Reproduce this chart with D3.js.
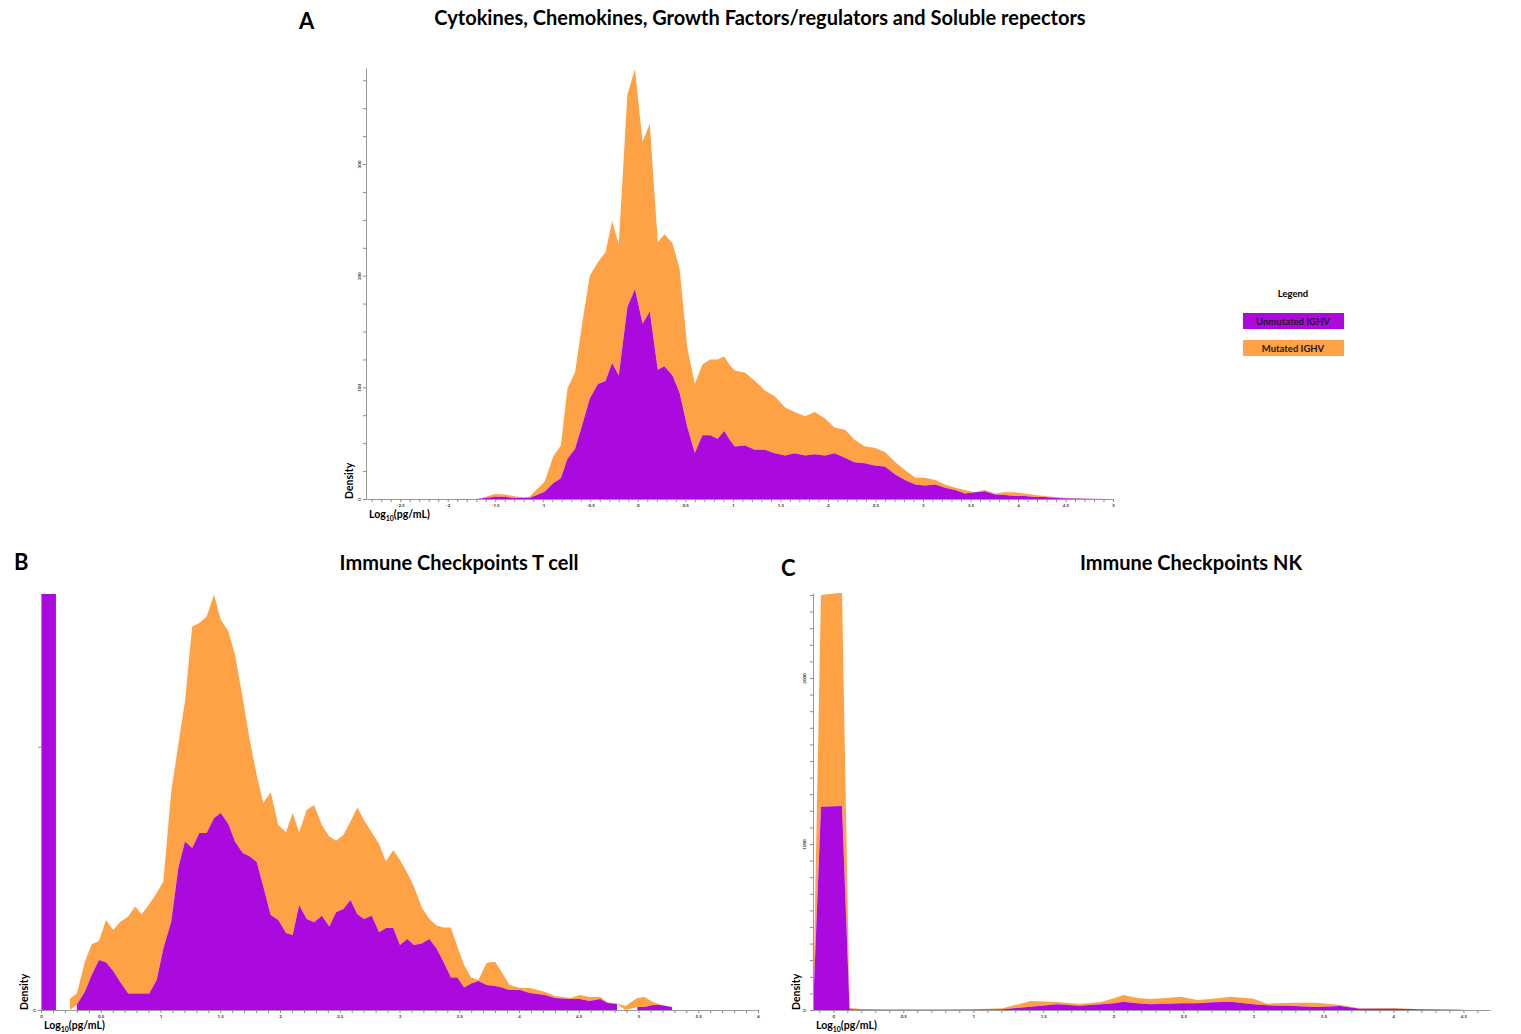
<!DOCTYPE html>
<html>
<head>
<meta charset="utf-8">
<script src="https://cdn.jsdelivr.net/npm/d3@7"></script>
<style>
  body { margin: 0; background: #fff; }
  text { font-family: Lato, "Open Sans", sans-serif; }
</style>
</head>
<body>
<svg id="chart" width="1521" height="1034"></svg>
<script>
// Colours of the two IGHV groups
const PURPLE = "#AB0ADF";
const ORANGE = "#FFA145";

// Panel A - cytokines etc. (log10 pg/mL, unmutated density, mutated density stacked on top)
const aLogX = [-1.70, -1.60, -1.50, -1.40, -1.30, -1.20, -1.14, -0.98, -0.89, -0.81, -0.74, -0.66, -0.58, -0.505, -0.42, -0.34, -0.27, -0.20, -0.11, -0.03,
  0.05, 0.126, 0.21, 0.28, 0.365, 0.44, 0.52, 0.60, 0.68, 0.76, 0.84, 0.91, 0.97, 1.02, 1.13, 1.23, 1.34, 1.44, 1.55, 1.65,
  1.76, 1.86, 1.97, 2.07, 2.18, 2.28, 2.39, 2.49, 2.60, 2.71, 2.81, 2.92, 3.02, 3.13, 3.23, 3.34, 3.44, 3.55, 3.65, 3.76,
  3.86, 3.97, 4.07, 4.18, 4.28, 4.39, 4.55, 4.76, 4.95];
const aUnmutated = [0, 1, 2, 2, 1, 0.8, 1, 6.5, 14, 18.5, 36, 45, 67.6, 90, 103, 105.6, 121.7, 110.7, 171.7, 188,
  157, 168, 115.8, 118.8, 110.7, 95, 64.6, 41.3, 57, 57, 54, 61, 52.7, 47, 48, 44, 44, 41, 39, 41,
  39, 40, 39, 41, 37, 33, 32, 30, 29, 22, 17, 13, 12, 13, 10, 8, 5, 6, 7, 4,
  3.5, 2.7, 2.7, 1.8, 1.8, 1, 0.5, 0.3, 0];
const aMutated = [0, 1, 2.5, 2, 1.5, 0.7, 1, 9, 24, 29.5, 63, 68.6, 92.4, 110, 109, 115.4, 127.3, 117.3, 190.3, 197,
  163, 168, 114.2, 118.2, 118.3, 111, 71.4, 61.7, 63.5, 68, 71, 66.7, 66.9, 68, 65, 62, 53, 51, 43, 37,
  35, 38, 33, 23, 25, 20, 15, 16, 13, 11, 9, 6, 7, 4, 3, 2, 3, 0, 1, 1,
  2.5, 3.3, 2.3, 1.7, 0.9, 0.8, 0.5, 0, 0];

// Panel B - immune checkpoints T cell (null = no density, gap in the area)
const bLogX = [0, 0.125, 0.18, 0.243, 0.30, 0.368, 0.424, 0.485, 0.544, 0.605, 0.66, 0.73, 0.787, 0.842, 0.906, 0.968, 1.024, 1.09, 1.149, 1.205,
  1.265, 1.325, 1.386, 1.448, 1.504, 1.568, 1.623, 1.688, 1.749, 1.805, 1.86, 1.922, 1.986, 2.05, 2.106, 2.16, 2.223, 2.285, 2.35, 2.413,
  2.469, 2.53, 2.59, 2.647, 2.703, 2.767, 2.83, 2.887, 2.948, 3.004, 3.065, 3.121, 3.186, 3.25, 3.31, 3.367, 3.43, 3.484, 3.54, 3.60,
  3.66, 3.73, 3.80, 3.87, 3.92, 4.01, 4.09, 4.22, 4.30, 4.43, 4.51, 4.59, 4.68, 4.74, 4.82, 4.89, 4.99, 5.05, 5.12, 5.18, 5.28];
const bUnmutated = [2400, 2400, null, null, 20, 70, 133, 190, 181, 148, 108, 63, 63, 63, 63, 114, 234, 336, 539, 640,
  615, 672, 672, 729, 748, 706, 640, 596, 583, 562, 469, 361, 342, 292, 285, 399, 346, 333, 358, 317,
  371, 384, 418, 364, 346, 358, 295, 311, 311, 247, 270, 247, 253, 270, 234, 184, 123, 123, 85, 101,
  110, 95, 91, 84, 76, 76, 65, 57, 46, 42, 42, 34, 42, 27, 23, null, 11, 11, 19, 19, 11];
const bMutated = [0, 0, null, 44, 43, 114, 117, 72, 161, 156, 225, 292, 330, 301, 339, 330, 254, 494, 469, 532,
  842, 798, 823, 849, 735, 732, 710, 589, 437, 331, 317, 466, 361, 383, 463, 276, 414, 446, 345, 342,
  272, 281, 298, 405, 376, 317, 335, 253, 297, 323, 250, 222, 136, 76, 87, 129, 190, 118, 86, 22,
  4, 84, 92, 49, 19, 8, 19, 11, 7, 4, 15, 15, 7, 2, 2, 15, 35, 38, 11, 2, 0];

// Panel C - immune checkpoints NK
const cLogX = [-0.145, -0.088, 0.062, 0.116, 0.2, 0.4, 0.6, 0.8, 1.0, 1.21, 1.41, 1.60, 1.76, 1.91, 2.01, 2.07, 2.17, 2.26, 2.38, 2.48,
  2.60, 2.71, 2.84, 3.0, 3.1, 3.29, 3.45, 3.62, 3.76, 4.0, 4.19, 4.48, 4.5];
const cUnmutated = [0, 1225, 1229, 5, 3, 2, 2, 2, 3, 5, 20, 34, 26, 34, 40, 50, 40, 34, 38, 40,
  40, 46, 50, 34, 28, 24, 18, 24, 8, 8, 4, 2, 0];
const cMutated = [0, 1275, 1285, 7, 3, 3, 3, 2, 2, 5, 34, 14, 10, 14, 32, 40, 32, 32, 34, 40,
  20, 22, 30, 34, 10, 20, 26, 6, 2, 4, 1, 0.5, 0];

const legendLabels = ["Unmutated IGHV", "Mutated IGHV"];

const svg = d3.select("#chart");

const round1 = v => Math.round(v * 10) / 10;
const isHalf = v => Math.abs(v * 2 - Math.round(v * 2)) < 1e-6;

function drawPanel(p) {
    const x = d3.scaleLinear().domain(p.xDomain).range([p.left, p.right]);
    const y = d3.scaleLinear().domain([0, p.yMax]).range([p.bottom, p.top]);
    const rows = p.xs.map((v, i) => ({ x: v, u: p.unmut[i], m: p.mut[i] }));

    svg.append("clipPath").attr("id", p.id + "-clip")
        .append("rect")
        .attr("x", p.left).attr("y", p.top)
        .attr("width", p.right - p.left).attr("height", p.bottom - p.top);

    const g = svg.append("g").attr("clip-path", `url(#${p.id}-clip)`);

    // mutated layer sits on top of the unmutated one
    g.append("path").datum(rows)
        .attr("fill", ORANGE)
        .attr("d", d3.area()
            .defined(d => d.m !== null)
            .x(d => x(d.x))
            .y0(d => y(d.u ?? 0))
            .y1(d => y((d.u ?? 0) + d.m)));

    g.append("path").datum(rows)
        .attr("fill", PURPLE)
        .attr("d", d3.area()
            .defined(d => d.u !== null)
            .x(d => x(d.x))
            .y0(y(0))
            .y1(d => y(d.u)));

    // x axis: minor ticks every 0.1, labels every 0.5
    const xTicks = d3.range(Math.ceil(p.xDomain[0] * 10), Math.floor(p.xDomain[1] * 10) + 1).map(v => round1(v / 10));
    const xAxis = svg.append("g")
        .attr("transform", `translate(0,${p.bottom})`)
        .call(d3.axisBottom(x).tickValues(xTicks).tickSize(3).tickSizeOuter(0)
            .tickFormat(d => isHalf(d) ? String(d) : ""));
    xAxis.select(".domain").attr("stroke", "#9a9a9a");
    xAxis.selectAll(".tick line").attr("stroke", "#8a8a8a");
    xAxis.selectAll("text").attr("y", 5).style("font-size", "4.5px").style("font-weight", 700).attr("fill", "#333");

    // y axis with rotated labels
    const yAxis = svg.append("g")
        .attr("transform", `translate(${p.left},0)`)
        .call(d3.axisLeft(y).tickValues(p.yTicks).tickSize(3).tickSizeOuter(0)
            .tickFormat(d => p.yLabels.includes(d) ? String(d) : ""));
    yAxis.select(".domain").attr("stroke", "#9a9a9a");
    yAxis.selectAll(".tick line").attr("stroke", "#8a8a8a");
    yAxis.selectAll("text")
        .attr("transform", "rotate(-90)")
        .attr("x", 0).attr("y", -p.yLabelGap).attr("dy", 0)
        .style("text-anchor", "middle")
        .style("font-size", "4.5px").style("font-weight", 700).attr("fill", "#333");

    // axis titles
    svg.append("text")
        .attr("transform", `translate(${p.left - 13},${p.bottom}) rotate(-90)`)
        .style("font-size", "10.5px").style("font-weight", 700)
        .text("Density");

    const xl = svg.append("text")
        .attr("x", p.left + 3).attr("y", p.bottom + 19)
        .style("font-size", "10.5px").style("font-weight", 700);
    xl.append("tspan").text("Log");
    xl.append("tspan").attr("dy", 2.5).style("font-size", "7px").text("10");
    xl.append("tspan").attr("dy", -2.5).text("(pg/mL)");

    svg.append("text")
        .attr("x", p.titleX).attr("y", p.titleY)
        .attr("text-anchor", "middle")
        .style("font-size", "20px").style("font-weight", 700)
        .text(p.title);

    svg.append("text")
        .attr("x", p.letterX).attr("y", p.letterY)
        .style("font-size", "22px").style("font-weight", 700)
        .text(p.letter);
}

drawPanel({
    id: "a", xs: aLogX, unmut: aUnmutated, mut: aMutated,
    xDomain: [-2.86, 5], yMax: 386,
    left: 366, right: 1113, top: 68, bottom: 499,
    yTicks: d3.range(0, 386, 25), yLabels: [0, 100, 200, 300], yLabelGap: 5,
    title: "Cytokines, Chemokines, Growth Factors/regulators and Soluble repectors",
    titleX: 760, titleY: 25, letter: "A", letterX: 299, letterY: 29
});

drawPanel({
    id: "b", xs: bLogX, unmut: bUnmutated, mut: bMutated,
    xDomain: [0, 6], yMax: 1580,
    left: 41, right: 758, top: 594, bottom: 1010,
    yTicks: [0, 1000], yLabels: [0], yLabelGap: 5,
    title: "Immune Checkpoints T cell",
    titleX: 459, titleY: 570, letter: "B", letterX: 14, letterY: 570
});

drawPanel({
    id: "c", xs: cLogX, unmut: cUnmutated, mut: cMutated,
    xDomain: [-0.145, 4.69], yMax: 2512,
    left: 813, right: 1490, top: 593, bottom: 1010,
    yTicks: d3.range(0, 2501, 100), yLabels: [0, 1000, 2000], yLabelGap: 7,
    title: "Immune Checkpoints NK",
    titleX: 1191, titleY: 570, letter: "C", letterX: 781, letterY: 576
});

// Legend
const legend = svg.append("g");
legend.append("text")
    .attr("x", 1293).attr("y", 297)
    .attr("text-anchor", "middle")
    .style("font-size", "9.5px").style("font-weight", 700)
    .text("Legend");

legend.selectAll(".key")
    .data(legendLabels)
    .enter().append("rect")
    .attr("x", 1243)
    .attr("y", (d, i) => 313 + i * 27)
    .attr("width", 101).attr("height", 16)
    .attr("fill", (d, i) => i === 0 ? PURPLE : ORANGE);

legend.selectAll(".lbl")
    .data(legendLabels)
    .enter().append("text")
    .attr("x", 1293)
    .attr("y", (d, i) => 324.5 + i * 27)
    .attr("text-anchor", "middle")
    .style("font-size", "9.5px").style("font-weight", 700)
    .attr("fill", "#1a1a1a")
    .text(d => d);
</script>
</body>
</html>
